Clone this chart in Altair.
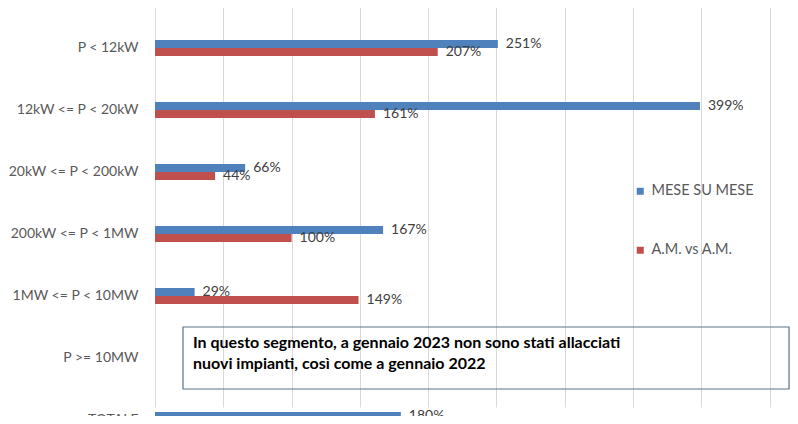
import altair as alt
import pandas as pd

categories = ["P < 12kW", "12kW <= P < 20kW", "20kW <= P < 200kW", "200kW <= P < 1MW",
              "1MW <= P < 10MW", "P >= 10MW", "TOTALE"]
series_names = ["MESE SU  MESE", "A.M. vs A.M."]
mese_su_mese = [251, 399, 66, 167, 29, None, 180]
am_vs_am = [207, 161, 44, 100, 149, None, 170]
# the reference is cropped: the label of the last red bar is not visible
am_vs_am_shown = [True, True, True, True, True, False, False]
annotation_lines = ["In questo segmento, a gennaio 2023 non sono stati allacciati",
                    "nuovi impianti, così come a gennaio 2022"]

rows = []
for c, a, b, s in zip(categories, mese_su_mese, am_vs_am, am_vs_am_shown):
    if a is not None:
        rows.append({"cat": c, "serie": series_names[0], "val": a, "lab": f"{a}%"})
    if b is not None:
        rows.append({"cat": c, "serie": series_names[1], "val": b, "lab": f"{b}%" if s else ""})
df = pd.DataFrame(rows)

FONT = "Lato"
yscale = alt.Scale(domain=categories, range=[9, 443], paddingInner=0, paddingOuter=0)
xscale = alt.Scale(domain=[0, 464.9], nice=False, zero=True)
offscale = alt.Scale(domain=series_names, range=[23, 39], paddingInner=0, paddingOuter=0)
color = alt.Scale(domain=series_names, range=["#4f81bd", "#c0504d"])

base = alt.Chart(df)

bars = base.mark_bar(clip=True).encode(
    y=alt.Y("cat:N", scale=yscale, sort=categories,
            axis=alt.Axis(title=None, ticks=False, domain=False, labelPadding=17,
                          labelFont=FONT, labelFontSize=14, labelColor="#595959")),
    x=alt.X("val:Q", scale=xscale,
            axis=alt.Axis(title=None, labels=False, ticks=False, domain=False,
                          values=[0, 50, 100, 150, 200, 250, 300, 350, 400, 450],
                          grid=True, gridColor="#d9d9d9", gridWidth=1)),
    yOffset=alt.YOffset("serie:N", scale=offscale, sort=series_names),
    color=alt.Color("serie:N", scale=color, sort=series_names,
                    legend=alt.Legend(title=None, orient="none", legendX=478, legendY=176,
                                      symbolType="square", symbolSize=49, rowPadding=44,
                                      labelFont=FONT, labelFontSize=14.5, labelColor="#595959",
                                      symbolStrokeWidth=0)),
)

labels = base.transform_filter("datum.lab != ''").mark_text(
    align="left", baseline="middle", dx=8, font=FONT, fontSize=14,
    color="#404040", clip=True).encode(
    y=alt.Y("cat:N", scale=yscale, sort=categories),
    x=alt.X("val:Q", scale=xscale),
    yOffset=alt.YOffset("serie:N", scale=offscale, sort=series_names),
    text="lab:N",
)

ann_df = pd.DataFrame({"cat": ["P >= 10MW"], "x1": [20.5], "x2": [464.2], "tx": [27.8],
                       "l1": [annotation_lines[0]], "l2": [annotation_lines[1]]})
ann = alt.Chart(ann_df)
box = ann.mark_rect(fillOpacity=0, stroke="#5a7285", strokeWidth=1.2).encode(
    y=alt.Y("cat:N", scale=yscale, sort=categories),
    x=alt.X("x1:Q", scale=xscale), x2="x2:Q",
)
t1 = ann.mark_text(align="left", baseline="middle", dy=-15, font=FONT, fontSize=16,
                   fontWeight="bold", color="#000000").encode(
    y=alt.Y("cat:N", scale=yscale, sort=categories),
    x=alt.X("tx:Q", scale=xscale), text="l1:N")
t2 = ann.mark_text(align="left", baseline="middle", dy=6, font=FONT, fontSize=16,
                   fontWeight="bold", color="#000000").encode(
    y=alt.Y("cat:N", scale=yscale, sort=categories),
    x=alt.X("tx:Q", scale=xscale), text="l2:N")

chart = alt.layer(bars, labels, box, t1, t2).properties(
    width=635, height=408,
    autosize=alt.AutoSizeParams(type="none"),
    padding={"left": 147, "top": 0, "right": 0, "bottom": 0},
).configure_view(stroke=None)

chart.save("out.html", embed_options={"renderer": "svg", "actions": False})
